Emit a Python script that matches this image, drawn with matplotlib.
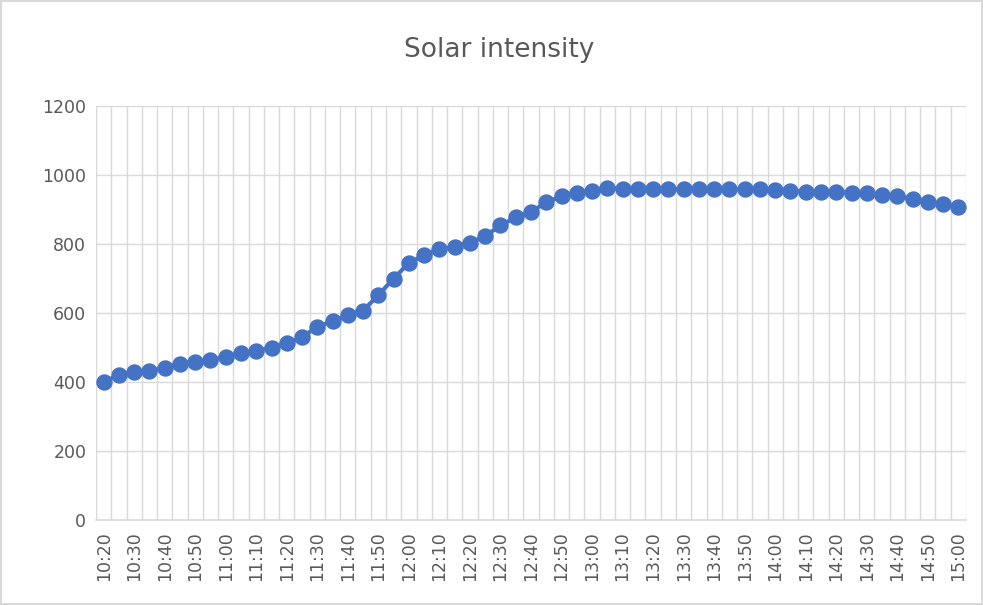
import matplotlib
matplotlib.use('Agg')
import matplotlib.pyplot as plt

# Time of reading (5 minute steps)
times = [
    '10:20', '10:25', '10:30', '10:35', '10:40', '10:45', '10:50', '10:55',
    '11:00', '11:05', '11:10', '11:15', '11:20', '11:25', '11:30', '11:35',
    '11:40', '11:45', '11:50', '11:55', '12:00', '12:05', '12:10', '12:15',
    '12:20', '12:25', '12:30', '12:35', '12:40', '12:45', '12:50', '12:55',
    '13:00', '13:05', '13:10', '13:15', '13:20', '13:25', '13:30', '13:35',
    '13:40', '13:45', '13:50', '13:55', '14:00', '14:05', '14:10', '14:15',
    '14:20', '14:25', '14:30', '14:35', '14:40', '14:45', '14:50', '14:55',
    '15:00',
]

# Solar intensity
intensity = [
    400, 420, 430, 433, 441, 453, 459, 464,
    473, 484, 491, 499, 512, 530, 560, 577,
    593, 607, 652, 700, 745, 768, 785, 792,
    804, 823, 854, 877, 893, 921, 938, 948,
    955, 963, 960, 959, 959, 959, 959, 959,
    959, 959, 959, 959, 957, 954, 952, 951,
    951, 949, 947, 942, 939, 930, 923, 915,
    908,
]

y_ticks = [0, 200, 400, 600, 800, 1000, 1200]

line_color = '#4472C4'
grid_color = '#D9D9D9'
text_color = '#595959'

fig = plt.figure(figsize=(9.83, 6.05), dpi=100)
fig.patch.set_edgecolor('#D9D9D9')
fig.patch.set_linewidth(1.5)
ax = fig.add_axes([96 / 983, 1 - 520 / 605, 870 / 983, 414 / 605])

x = list(range(len(times)))
ax.plot(x, intensity, color=line_color, linewidth=3, marker='o',
        markersize=10.8, markerfacecolor=line_color, markeredgecolor=line_color,
        zorder=3)

# Vertical gridlines sit between categories, like Excel
for b in range(len(times) + 1):
    ax.axvline(b - 0.5, color=grid_color, linewidth=1, zorder=1)
for yt in y_ticks[1:]:
    ax.axhline(yt, color=grid_color, linewidth=1, zorder=1)

ax.set_xlim(-0.5, len(times) - 0.5)
ax.set_ylim(0, 1200)
ax.set_yticks(y_ticks)
ax.set_xticks(x[::2])
ax.set_xticklabels(times[::2], rotation=90)

for s in ['top', 'right', 'left']:
    ax.spines[s].set_visible(False)
ax.spines['bottom'].set_color(grid_color)
ax.spines['bottom'].set_linewidth(1.2)

ax.tick_params(axis='both', length=0, labelsize=12.5, colors=text_color)
ax.tick_params(axis='y', pad=7)
ax.tick_params(axis='x', pad=8)

fig.text(0.508, 0.918, 'Solar intensity', ha='center', va='center',
         fontsize=19, color=text_color)

fig.savefig('out.png', dpi=100)
